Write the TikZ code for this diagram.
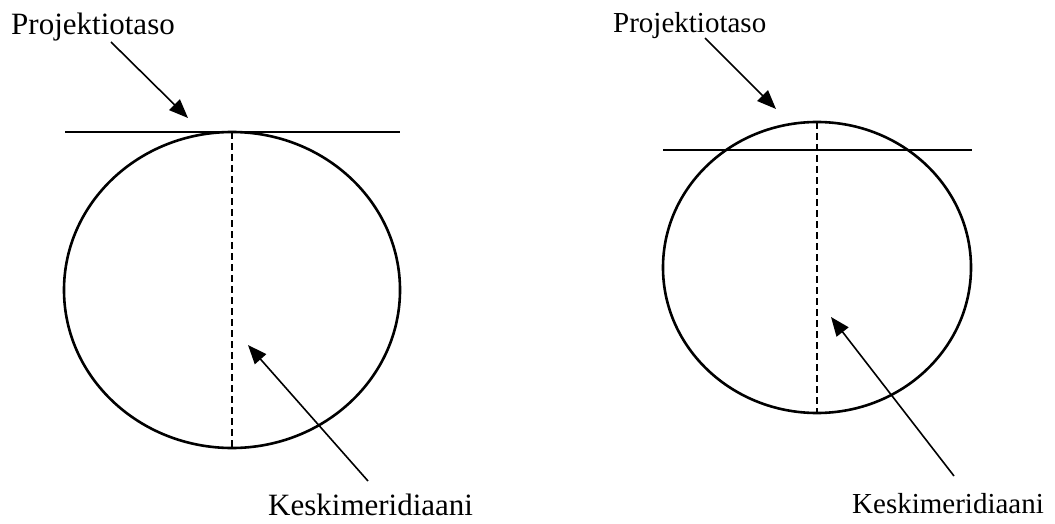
\documentclass[tikz,border=0pt]{standalone}
\usepackage{fontspec}
\setmainfont{Liberation Serif}
\usetikzlibrary{arrows.meta}
\begin{document}
\begin{tikzpicture}[x=1pt,y=-1pt,
  globe/.style={line width=2.6pt},
  plane/.style={line width=1.6pt},
  meridian/.style={line width=1.6pt,dash pattern=on 7pt off 4pt},
  pointer/.style={line width=1.6pt,-{Triangle[length=19pt,width=15pt]}},
  biglabel/.style={inner sep=0pt,anchor=base west,font=\fontsize{31}{36}\selectfont},
  smalllabel/.style={inner sep=0pt,anchor=base west,font=\fontsize{29}{34}\selectfont}]
\useasboundingbox (0,0) rectangle (1055,524);
% left figure
\draw[globe] (232,290) ellipse [x radius=168, y radius=158];
\coordinate (lpa) at (65,132);
\coordinate (lpb) at (400,132);
\draw[plane] (lpa) -- (lpb);
\coordinate (lmt) at (232,132);
\coordinate (lmb) at (232,448);
\draw[meridian] (lmt) -- (lmb);
\node[biglabel] (lproj) at (11,35) {Projektiotaso};
\coordinate (lps) at (111,42);
\coordinate (lpt) at (188,118);
\draw[pointer] (lps) -- (lpt);
\node[biglabel] (lkesk) at (268,515) {Keskimeridiaani};
\coordinate (lks) at (368,481);
\coordinate (lkt) at (248,345);
\draw[pointer] (lks) -- (lkt);
% right figure
\draw[globe] (817,267.5) ellipse [x radius=154, y radius=145.5];
\coordinate (rpa) at (663,150);
\coordinate (rpb) at (972,150);
\draw[plane] (rpa) -- (rpb);
\coordinate (rmt) at (817,122);
\coordinate (rmb) at (817,413);
\draw[meridian] (rmt) -- (rmb);
\node[smalllabel] (rproj) at (613,33) {Projektiotaso};
\coordinate (rps) at (705,38);
\coordinate (rpt) at (776,109);
\draw[pointer] (rps) -- (rpt);
\node[smalllabel] (rkesk) at (852,513) {Keskimeridiaani};
\coordinate (rks) at (954,476);
\coordinate (rkt) at (831,317);
\draw[pointer] (rks) -- (rkt);
\end{tikzpicture}
\end{document}
